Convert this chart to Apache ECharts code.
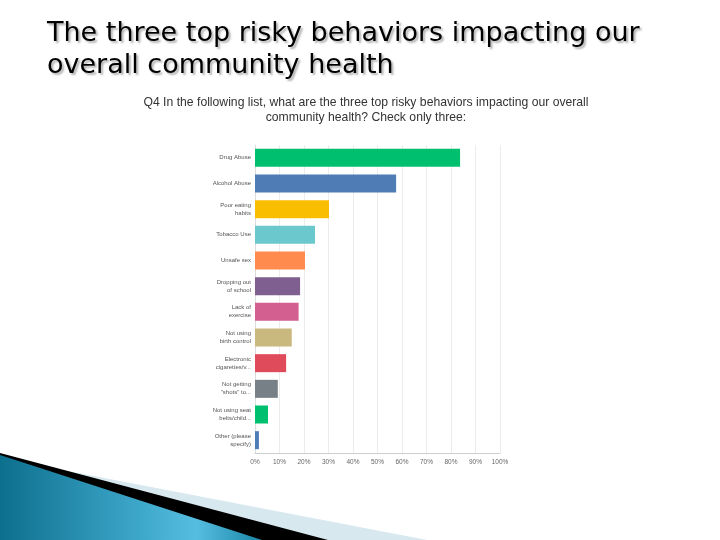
<!DOCTYPE html>
<html>
<head>
<meta charset="utf-8">
<script src="https://cdn.jsdelivr.net/npm/echarts@6/dist/echarts.min.js"></script>
<style>
  html, body { margin: 0; padding: 0; background: #fff; }
  #main { width: 720px; height: 540px; }
</style>
</head>
<body>
<div id="main"></div>
<script>
// answer choices, top to bottom
var categories = [
    'Drug Abuse',
    'Alcohol Abuse',
    'Poor eating\nhabits',
    'Tobacco Use',
    'Unsafe sex',
    'Dropping out\nof school',
    'Lack of\nexercise',
    'Not using\nbirth control',
    'Electronic\ncigarettes/v...',
    'Not getting\n"shots" to...',
    'Not using seat\nbelts/child...',
    'Other (please\nspecify)'
];
// percent of respondents
var percents = [83.7, 57.6, 30.2, 24.5, 20.4, 18.4, 17.8, 15.0, 12.7, 9.3, 5.3, 1.6];
var barColors = ['#00bf6f', '#507cb6', '#f9be00', '#6bc8cd', '#ff8b4f', '#7f5f90',
                 '#d25f90', '#c9b97e', '#e04b5c', '#768086', '#00bf6f', '#507cb6'];
var tickLabels = ['0%', '10%', '20%', '30%', '40%', '50%', '60%', '70%', '80%', '90%', '100%'];

var chart = echarts.init(document.getElementById('main'), null, { renderer: 'canvas' });

// bars go top -> bottom, so reverse for the category axis
var yCats = categories.slice().reverse();
var barData = [];
for (var i = percents.length - 1; i >= 0; i--) {
    barData.push({ value: percents[i], itemStyle: { color: barColors[i] } });
}

var option = {
    backgroundColor: '#ffffff',
    animation: false,
    title: {
        text: 'The three top risky behaviors impacting our\noverall community health',
        left: 42,
        top: 13,
        textStyle: {
            fontFamily: 'DejaVu Sans',
            fontSize: 27,
            fontWeight: 'normal',
            color: '#000',
            lineHeight: 32,
            textShadowColor: 'rgba(0,0,0,0.3)',
            textShadowOffsetX: 2,
            textShadowOffsetY: 2,
            textShadowBlur: 2
        }
    },
    grid: {
        left: 255,
        right: 220,
        top: 145,
        bottom: 87,
        containLabel: false
    },
    xAxis: {
        type: 'value',
        min: 0,
        max: 100,
        interval: 10,
        axisLine: { show: true, lineStyle: { color: '#cfcfcf' } },
        axisTick: { show: false },
        splitLine: { show: true, lineStyle: { color: '#ececec' } },
        axisLabel: {
            fontFamily: 'Liberation Sans',
            fontSize: 6.5,
            color: '#666',
            margin: 6,
            formatter: function (v) { return tickLabels[Math.round(v / 10)]; }
        }
    },
    yAxis: {
        type: 'category',
        data: yCats,
        axisLine: { show: true, lineStyle: { color: '#dcdcdc' } },
        axisTick: { show: false },
        axisLabel: {
            fontFamily: 'Liberation Sans',
            fontSize: 6,
            color: '#555',
            lineHeight: 8,
            margin: 4
        }
    },
    series: [{
        type: 'bar',
        data: barData,
        barWidth: 18
    }],
    graphic: [
        {
            type: 'text',
            x: 366,
            y: 95,
            style: {
                text: 'Q4 In the following list, what are the three top risky behaviors impacting our overall\ncommunity health? Check only three:',
                align: 'center',
                fontFamily: 'Liberation Sans',
                fontSize: 12.2,
                lineHeight: 15,
                fill: '#333'
            }
        },
        // slide decoration, bottom left
        {
            type: 'polygon',
            shape: { points: [[0, 458], [427, 540], [0, 540]] },
            style: { fill: '#d7e8ef' }
        },
        {
            type: 'polygon',
            shape: { points: [[0, 453], [328, 540], [0, 540]] },
            style: { fill: '#000' }
        },
        {
            type: 'polygon',
            shape: { points: [[0, 455], [262, 540], [0, 540]] },
            style: {
                fill: new echarts.graphic.LinearGradient(0, 0, 1, 0, [
                    { offset: 0, color: '#0d6f8e' },
                    { offset: 0.55, color: '#3fa9cc' },
                    { offset: 0.75, color: '#55bde0' },
                    { offset: 1, color: '#1a86a8' }
                ])
            }
        }
    ]
};

if (option && typeof option === 'object') {
    chart.setOption(option);
}
</script>
</body>
</html>
